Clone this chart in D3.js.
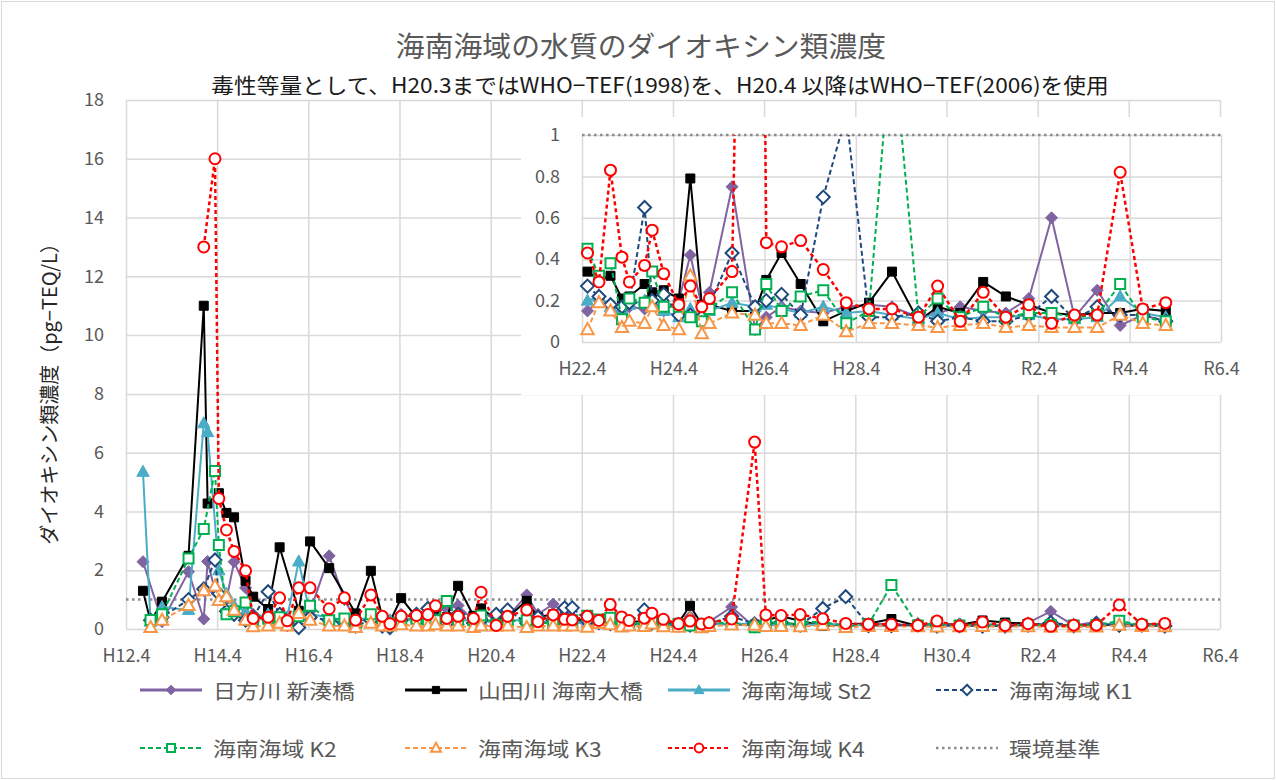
<!DOCTYPE html>
<html>
<head>
<meta charset="utf-8">
<script src="https://cdnjs.cloudflare.com/ajax/libs/d3/7.8.5/d3.min.js"></script>
<style>
  body { margin: 0; background: #fff; }
  text { font-family: "Noto Sans CJK JP", "Noto Sans", sans-serif; }
</style>
</head>
<body>
<script>
// sampling months (one entry per survey)
var dates = [
  "2000-08","2000-10","2001-01","2001-08","2001-12","2002-01","2002-03","2002-04","2002-06","2002-08",
  "2002-11","2003-01","2003-05","2003-08","2003-10","2004-01","2004-04","2004-09","2005-01","2005-04",
  "2005-08","2005-11","2006-01","2006-04","2006-08","2006-11","2007-01","2007-04","2007-07","2007-11",
  "2008-01","2008-05","2008-08","2009-01","2009-04","2009-08","2009-11","2010-01",
  "2010-05","2010-08","2010-11","2011-02","2011-04","2011-08","2011-10","2012-01","2012-05","2012-08",
  "2012-11","2013-01","2013-07","2014-01","2014-04","2014-08","2015-01","2015-07","2016-01","2016-07",
  "2017-01","2017-08","2018-01","2018-07","2019-01","2019-07","2020-01","2020-07","2021-01","2021-07",
  "2022-01","2022-07","2023-01"
];

var hikata = [
  2.29, null, 0.25, 1.95, 0.34, 2.30, 1.30, null, 1.00, 2.29,
  1.40, 0.50, 0.40, 0.30, 0.10, 0.50, 0.60, 2.49, 1.00, 0.30,
  0.30, 0.15, 0.30, 0.50, 0.40, 0.30, 0.60, 0.70, 0.80, 0.30,
  0.60, 0.30, 0.40, 1.16, 0.50, 0.85, 0.50, 0.40,
  0.15, 0.20, 0.18, 0.15, 0.17, 0.16, 0.20, 0.15, 0.20, 0.42,
  0.17, 0.24, 0.75, 0.06, 0.12, 0.17, 0.15, 0.14, 0.17, 0.18,
  0.17, 0.12, 0.14, 0.17, 0.15, 0.14, 0.21, 0.60, 0.12, 0.25,
  0.08, 0.13, 0.10
];
var yamada = [
  1.30, 0.25, 0.93, 2.49, 11.0, 4.27, null, 4.62, 3.95, 3.80,
  1.64, 1.10, 0.68, 2.78, null, 0.62, 2.98, 2.07, null, 0.53,
  1.98, 0.40, 0.25, 1.05, 0.40, 0.35, 0.50, 0.40, 1.47, 0.45,
  0.70, 0.35, 0.40, 0.96, 0.40, 0.50, 0.35, 0.30,
  0.34, 0.30, 0.32, 0.21, 0.22, 0.28, 0.24, 0.25, 0.21, 0.79,
  0.18, 0.18, 0.15, 0.15, 0.30, 0.43, 0.28, 0.10, 0.15, 0.19,
  0.34, 0.10, 0.17, 0.14, 0.29, 0.22, 0.18, 0.14, 0.13, 0.14,
  0.14, 0.16, 0.15
];
var st2 = [
  5.35, 0.25, 0.75, 0.65, 7.00, 6.70, null, 2.00, 1.20, 0.80,
  0.60, 0.40, 0.50, 0.30, 0.40, 2.30, 0.50, 0.40, 0.30, 0.30,
  0.40, 0.30, 0.30, 0.30, 0.40, 0.30, 0.30, 0.40, 0.30, 0.30,
  0.30, 0.20, 0.30, 0.30, 0.20, 0.30, 0.25, 0.20,
  0.20, 0.22, 0.17, 0.16, 0.18, 0.20, 0.18, 0.15, 0.12, 0.16,
  0.13, 0.15, 0.19, 0.17, 0.18, 0.16, 0.14, 0.17, 0.14, 0.15,
  0.13, 0.11, 0.14, 0.11, 0.12, 0.12, 0.13, 0.11, 0.11, 0.12,
  0.22, 0.14, 0.12
];
var k1 = [
  null, 0.30, 0.40, 1.00, 1.36, null, 2.35, 1.20, 0.60, 0.50,
  0.30, 0.40, 1.27, 0.50, 0.20, 0.05, 0.40, 0.30, 0.20, 0.10,
  0.30, 0.10, 0.05, 0.30, 0.50, 0.70, 0.30, 0.20, 0.50, 0.20,
  0.30, 0.50, 0.65, 0.20, 0.40, 0.30, 0.72, 0.72,
  0.27, 0.22, 0.18, 0.17, 0.19, 0.65, 0.20, 0.23, 0.13, 0.13,
  0.12, 0.18, 0.43, 0.17, 0.20, 0.23, 0.13, 0.70, 1.10, 0.12,
  0.12, 0.14, 0.10, 0.12, 0.10, 0.10, 0.13, 0.22, 0.11, 0.17,
  0.13, 0.13, 0.10
];
var k2 = [
  null, 0.31, 0.50, 2.40, 3.40, null, 5.38, 2.86, 0.50, 0.60,
  0.90, 0.30, 0.35, 0.40, 0.20, 0.43, 0.79, 0.30, 0.36, 0.20,
  0.50, 0.20, 0.20, 0.30, 0.35, 0.30, 0.30, 0.95, 0.30, 0.30,
  0.46, 0.15, 0.25, 0.30, 0.20, 0.20, 0.25, 0.30,
  0.45, 0.32, 0.38, 0.11, 0.21, 0.19, 0.34, 0.17, 0.17, 0.12,
  0.10, 0.16, 0.24, 0.06, 0.28, 0.15, 0.22, 0.25, 0.09, 0.15,
  1.50, 0.12, 0.21, 0.12, 0.17, 0.12, 0.14, 0.14, 0.12, 0.13,
  0.28, 0.12, 0.10
];
var k3 = [
  null, 0.05, 0.30, 0.80, 1.30, null, 1.46, 0.97, 1.10, 0.64,
  0.30, 0.08, 0.10, 0.20, 0.10, 0.53, 0.30, 0.10, 0.10, 0.05,
  0.20, 0.10, 0.10, 0.15, 0.10, 0.10, 0.15, 0.10, 0.10, 0.05,
  0.10, 0.10, 0.10, 0.05, 0.10, 0.10, 0.10, 0.10,
  0.06, 0.19, 0.15, 0.07, 0.10, 0.09, 0.17, 0.08, 0.06, 0.32,
  0.04, 0.09, 0.14, 0.13, 0.09, 0.09, 0.08, 0.13, 0.05, 0.09,
  0.09, 0.08, 0.07, 0.08, 0.09, 0.07, 0.08, 0.07, 0.07, 0.07,
  0.13, 0.09, 0.08
];
var k4 = [
  null, null, null, null, 13.0, null, 16.0, 4.44, 3.37, 2.64,
  1.98, 0.36, 0.40, 1.06, 0.28, 1.40, 1.40, 0.69, 1.06, 0.30,
  1.16, 0.43, 0.18, 0.43, 0.46, 0.49, 0.79, 0.36, 0.43, 0.36,
  1.25, 0.12, 0.43, 0.65, 0.25, 0.48, 0.33, 0.31,
  0.43, 0.29, 0.83, 0.41, 0.29, 0.37, 0.54, 0.33, 0.18, 0.27,
  0.17, 0.21, 0.34, 6.36, 0.48, 0.46, 0.49, 0.35, 0.19, 0.16,
  0.16, 0.12, 0.27, 0.10, 0.24, 0.12, 0.18, 0.09, 0.13, 0.13,
  0.82, 0.16, 0.19
];
var envStandard = 1;

var seriesNames = ["日方川 新湊橋", "山田川 海南大橋", "海南海域 St2", "海南海域 K1",
                   "海南海域 K2", "海南海域 K3", "海南海域 K4"];
var envName = "環境基準";

var xTickMonths = ["2000-04","2002-04","2004-04","2006-04","2008-04","2010-04","2012-04",
                   "2014-04","2016-04","2018-04","2020-04","2022-04","2024-04"];
var xTickLabels = ["H12.4","H14.4","H16.4","H18.4","H20.4","H22.4","H24.4",
                   "H26.4","H28.4","H30.4","R2.4","R4.4","R6.4"];
var yTicks = [0, 2, 4, 6, 8, 10, 12, 14, 16, 18];
var insetYTicks = [0, 0.2, 0.4, 0.6, 0.8, 1];
var insetStart = "2010-04";

var title = "海南海域の水質のダイオキシン類濃度";
var subtitle = "毒性等量として、H20.3まではWHO−TEF(1998)を、H20.4 以降はWHO−TEF(2006)を使用";
var yTitle = "ダイオキシン類濃度（pg−TEQ/L）";

// styles
var styles = [
  { color: "#8064A2", dash: null,  shape: "diamond",  fill: true,  r: 6 },
  { color: "#000000", dash: null,  shape: "square",   fill: true,  r: 4.5 },
  { color: "#4BACC6", dash: null,  shape: "triangle", fill: true,  r: 6.5 },
  { color: "#1F497D", dash: "5,3", shape: "diamond",  fill: false, r: 6.5 },
  { color: "#00B050", dash: "5,3", shape: "square",   fill: false, r: 5 },
  { color: "#F79646", dash: "5,3", shape: "triangle", fill: false, r: 6.5 },
  { color: "#FF0000", dash: "4,3", shape: "circle",   fill: false, r: 5.5 }
];
var allValues = [hikata, yamada, st2, k1, k2, k3, k4];

var W = 1276, H = 780;
var grey = "#595959", gridColor = "#d9d9d9";

var svg = d3.select("body").append("svg")
    .attr("width", W)
    .attr("height", H);

svg.append("rect")
    .attr("x", 1.5).attr("y", 1.5)
    .attr("width", W - 3).attr("height", H - 3)
    .attr("fill", "#fff").attr("stroke", gridColor);

var parseMonth = d3.timeParse("%Y-%m");
function sampleDate(s) { return d3.timeDay.offset(parseMonth(s), 14); }

// the picture is a little wider than tall, so stretch text sideways
function widen(sel, k) {
  sel.attr("textLength", function() { return this.getComputedTextLength() * k; })
     .attr("lengthAdjust", "spacingAndGlyphs");
}

function markerPath(shape, r) {
  if (shape == "diamond") return "M0," + (-r) + "L" + r + ",0L0," + r + "L" + (-r) + ",0Z";
  if (shape == "square") return "M" + (-r) + "," + (-r) + "h" + 2 * r + "v" + 2 * r + "h" + (-2 * r) + "Z";
  if (shape == "triangle") return "M0," + (-r) + "L" + (r * 0.95) + "," + (r * 0.7) + "L" + (-r * 0.95) + "," + (r * 0.7) + "Z";
  return "M" + r + ",0A" + r + "," + r + " 0 1,1 " + (-r) + ",0A" + r + "," + r + " 0 1,1 " + r + ",0Z";
}

var series = allValues.map(function(vals, i) {
  return {
    name: seriesNames[i],
    style: styles[i],
    points: dates.map(function(s, j) { return { date: sampleDate(s), v: vals[j] }; })
                 .filter(function(d) { return d.v != null; })
  };
});

// draw one panel: grid, axis labels, standard line and all series
function drawPanel(g, x, y, xTicks, yTickVals, yFormat, yMax, clipId, fromDate) {
  var x0 = x.range()[0], x1 = x.range()[1], y0 = y.range()[0], y1 = y.range()[1];

  g.append("clipPath").attr("id", clipId)
    .append("rect").attr("x", x0).attr("y", y1).attr("width", x1 - x0).attr("height", y0 - y1);

  var ya = g.append("g")
      .attr("transform", "translate(" + x0 + ",0)")
      .call(d3.axisLeft(y).tickValues(yTickVals).tickFormat(yFormat).tickSize(-(x1 - x0)).tickPadding(22));
  var xa = g.append("g")
      .attr("transform", "translate(0," + y0 + ")")
      .call(d3.axisBottom(x).tickValues(xTicks.map(parseMonth))
            .tickFormat(function(d, i) { return xTickLabels[xTickLabels.length - xTicks.length + i]; })
            .tickSize(-(y0 - y1)).tickPadding(20));
  [ya, xa].forEach(function(a) {
    a.select(".domain").remove();
    a.selectAll(".tick line").attr("stroke", gridColor).attr("stroke-width", 1.5);
    a.selectAll(".tick text").attr("fill", grey).style("font-size", "18px");
  });

  // environmental standard
  g.append("line")
    .attr("x1", x0).attr("x2", x1)
    .attr("y1", y(envStandard)).attr("y2", y(envStandard))
    .attr("stroke", "#8c8c8c").attr("stroke-width", 2.5)
    .attr("stroke-dasharray", "2.5,3.5");

  var line = d3.line()
      .x(function(d) { return x(d.date); })
      .y(function(d) { return y(d.v); });

  series.forEach(function(s) {
    var pts = s.points.filter(function(d) { return d.date >= fromDate; });
    var st = s.style;
    g.append("path")
      .datum(pts)
      .attr("clip-path", "url(#" + clipId + ")")
      .attr("fill", "none")
      .attr("stroke", st.color)
      .attr("stroke-width", st.shape == "circle" ? 2.5 : 2)
      .attr("stroke-dasharray", st.dash)
      .attr("d", line);
    g.append("g").selectAll("path")
      .data(pts.filter(function(d) { return d.v <= yMax; }))
      .enter().append("path")
      .attr("transform", function(d) { return "translate(" + x(d.date) + "," + y(d.v) + ")"; })
      .attr("d", markerPath(st.shape, st.r))
      .attr("fill", st.fill ? st.color : "#fff")
      .attr("stroke", st.color)
      .attr("stroke-width", st.fill ? 1 : 2);
  });
}

// main chart
var x = d3.scaleTime()
    .domain([parseMonth(xTickMonths[0]), parseMonth(xTickMonths[xTickMonths.length - 1])])
    .range([126, 1220]);
var y = d3.scaleLinear().domain([0, 18]).range([629, 100]);
drawPanel(svg.append("g"), x, y, xTickMonths, yTicks, d3.format("d"), 18, "clipMain", parseMonth(xTickMonths[0]));

// inset (zoom on H22.4 onward)
var insetTicks = xTickMonths.filter(function(m) { return m >= insetStart; });
var xi = d3.scaleTime()
    .domain([parseMonth(insetStart), parseMonth(xTickMonths[xTickMonths.length - 1])])
    .range([582, 1221]);
var yi = d3.scaleLinear().domain([0, 1]).range([342, 135]);
var gi = svg.append("g");
gi.append("rect").attr("x", 521).attr("y", 117).attr("width", 726).attr("height", 278).attr("fill", "#fff");
drawPanel(gi, xi, yi, insetTicks, insetYTicks, function(d) { return d == 0 || d == 1 ? d3.format("d")(d) : d3.format(".1f")(d); },
          1, "clipInset", parseMonth(insetStart));

// titles
svg.append("text")
    .attr("x", 641).attr("y", 57)
    .attr("text-anchor", "middle")
    .attr("fill", grey).style("font-size", "28px")
    .text(title)
    .call(widen, 1.03);
svg.append("text")
    .attr("x", 660).attr("y", 93)
    .attr("text-anchor", "middle")
    .attr("fill", "#1a1a1a").style("font-size", "21px")
    .text(subtitle)
    .call(widen, 1.08);
svg.append("text")
    .attr("transform", "translate(48,389) rotate(-90)")
    .attr("text-anchor", "middle")
    .attr("dominant-baseline", "central")
    .attr("fill", "#262626").style("font-size", "20px")
    .text(yTitle);

// legend
var legendItems = series.map(function(s) { return { name: s.name, style: s.style }; })
    .concat([{ name: envName, style: null }]);
var colX = [140, 405, 668, 936], rowY = [690, 748];
var lg = svg.append("g").selectAll("g")
    .data(legendItems)
    .enter().append("g")
    .attr("transform", function(d, i) { return "translate(" + colX[i % 4] + "," + rowY[Math.floor(i / 4)] + ")"; });
lg.append("line")
    .attr("x1", 0).attr("x2", 62)
    .attr("stroke", function(d) { return d.style ? d.style.color : "#8c8c8c"; })
    .attr("stroke-width", function(d) { return d.style ? (d.style.fill ? 3 : 2) : 2.5; })
    .attr("stroke-dasharray", function(d) { return d.style ? d.style.dash : "2.5,3.5"; });
lg.filter(function(d) { return d.style; }).append("path")
    .attr("transform", "translate(31,0)")
    .attr("d", function(d) { return markerPath(d.style.shape, d.style.r * 0.8); })
    .attr("fill", function(d) { return d.style.fill ? d.style.color : "#fff"; })
    .attr("stroke", function(d) { return d.style.color; })
    .attr("stroke-width", function(d) { return d.style.fill ? 1 : 2; });
lg.append("text")
    .attr("x", 73).attr("y", 0)
    .attr("dominant-baseline", "central")
    .attr("fill", grey).style("font-size", "20px")
    .text(function(d) { return d.name; })
    .call(widen, 1.14);
</script>
</body>
</html>
